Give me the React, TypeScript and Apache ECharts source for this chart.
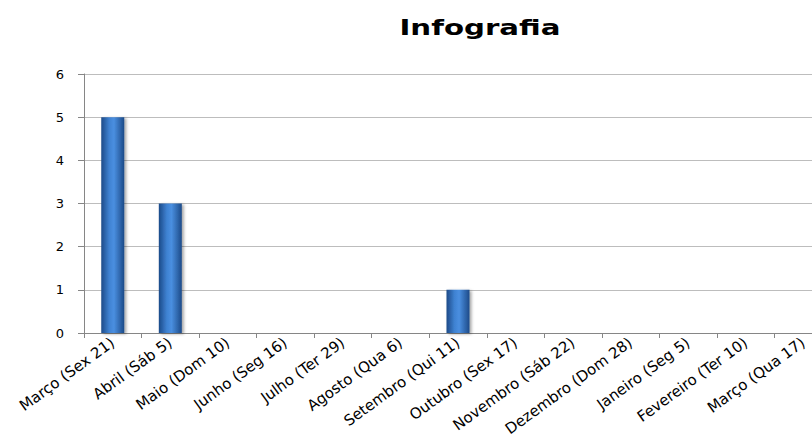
import React, { useEffect, useRef } from "react";
import * as echarts from "echarts";

const categories = [
  "Março (Sex 21)",
  "Abril (Sáb 5)",
  "Maio (Dom 10)",
  "Junho (Seg 16)",
  "Julho (Ter 29)",
  "Agosto (Qua 6)",
  "Setembro (Qui 11)",
  "Outubro (Sex 17)",
  "Novembro (Sáb 22)",
  "Dezembro (Dom 28)",
  "Janeiro (Seg 5)",
  "Fevereiro (Ter 10)",
  "Março (Qua 17)",
];
const values = [5, 3, 0, 0, 0, 0, 1, 0, 0, 0, 0, 0, 0];
const titleText = "Infografia";

export default function App() {
  const ref = useRef<HTMLDivElement>(null);
  useEffect(() => {
    document.body.style.margin = "0";
    const chart = echarts.init(ref.current!, null, { renderer: "svg" });
    const font = "'DejaVu Sans', sans-serif";
    chart.setOption({
      animation: false,
      backgroundColor: "#ffffff",
      graphic: [
        {
          type: "text",
          x: 480,
          y: 27,
          scaleX: 1.33,
          style: {
            text: titleText,
            fontFamily: font,
            fontWeight: "bold",
            fontSize: 22,
            fill: "#000000",
            textAlign: "center",
            textVerticalAlign: "middle",
          },
        },
      ],
      grid: {
        left: 84,
        top: 74,
        height: 259,
        width: 748,
        containLabel: false,
        outerBoundsMode: "none",
      },
      xAxis: {
        type: "category",
        data: categories,
        axisLine: { lineStyle: { color: "#868686", width: 1 } },
        axisTick: { show: true, length: 5, lineStyle: { color: "#868686" } },
        axisLabel: {
          rotate: 36,
          interval: 0,
          margin: 8,
          fontFamily: font,
          fontSize: 15,
          color: "#000000",
        },
      },
      yAxis: {
        type: "value",
        min: 0,
        max: 6,
        interval: 1,
        axisLine: { show: true, lineStyle: { color: "#868686", width: 1 } },
        axisTick: { show: true, length: 6, lineStyle: { color: "#868686" } },
        splitLine: { lineStyle: { color: "#bdbdbd", width: 1 } },
        axisLabel: { margin: 20, fontFamily: font, fontSize: 13, color: "#000000" },
      },
      series: [
        {
          type: "bar",
          data: values,
          barWidth: 23,
          itemStyle: {
            color: new echarts.graphic.LinearGradient(0, 0, 1, 0, [
              { offset: 0, color: "#1c4a88" },
              { offset: 0.35, color: "#3f82d2" },
              { offset: 0.55, color: "#4a8fe0" },
              { offset: 1, color: "#1c4a88" },
            ]),
            shadowColor: "rgba(0,0,0,0.35)",
            shadowBlur: 3,
            shadowOffsetX: 2,
            shadowOffsetY: 1,
          },
        },
      ],
    });
    return () => chart.dispose();
  }, []);
  return <div ref={ref} style={{ width: 812, height: 441 }} />;
}
